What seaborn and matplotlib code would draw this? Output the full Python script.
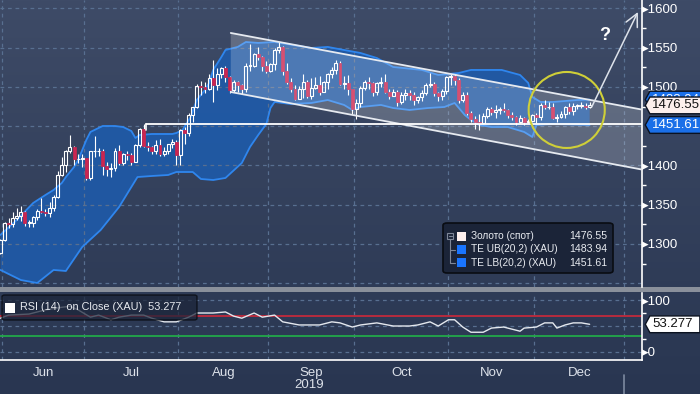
import numpy as np
import matplotlib
matplotlib.use("Agg")
import matplotlib.pyplot as plt
import matplotlib.transforms as mtransforms
from matplotlib.patches import Ellipse, Polygon, FancyBboxPatch, Rectangle
from matplotlib.lines import Line2D
from matplotlib.path import Path
from matplotlib.colors import LinearSegmentedColormap
from matplotlib.ticker import FixedLocator
import seaborn as sns

# ---------------- data (trading-day index: 0 = 31 May 2019 ... 144 = 19 Dec 2019) -------------
opens = [1288, 1305, 1327, 1325, 1333, 1336, 1341, 1327, 1327, 1334, 1342, 1341, 1340, 1346, 1360,
         1388, 1400, 1418, 1423, 1408, 1408, 1409, 1384, 1418, 1418, 1419, 1399, 1396, 1397, 1419,
         1403, 1415, 1413, 1405, 1426, 1446, 1425, 1424, 1418, 1426, 1414, 1418, 1427, 1430, 1413,
         1445, 1441, 1464, 1474, 1501, 1500, 1497, 1511, 1502, 1517, 1524, 1513, 1496, 1506, 1502,
         1498, 1527, 1527, 1542, 1538, 1527, 1520, 1529, 1547, 1551, 1520, 1506, 1498, 1485, 1497,
         1506, 1488, 1499, 1502, 1494, 1506, 1516, 1522, 1531, 1504, 1505, 1497, 1472, 1479, 1499,
         1506, 1505, 1494, 1505, 1506, 1494, 1489, 1494, 1481, 1490, 1492, 1490, 1484, 1487, 1492,
         1503, 1504, 1492, 1488, 1495, 1513, 1514, 1509, 1483, 1490, 1467, 1459, 1456, 1454, 1463,
         1472, 1468, 1471, 1472, 1471, 1464, 1462, 1455, 1461, 1455, 1457, 1464, 1462, 1477, 1474,
         1475, 1460, 1462, 1465, 1475, 1469, 1476, 1476, 1476, 1475]
highs = [1306, 1328, 1333, 1341, 1346, 1348, 1342, 1331, 1336, 1345, 1358, 1344, 1353, 1363, 1393,
         1411, 1420, 1439, 1425, 1415, 1414, 1410, 1419, 1437, 1422, 1421, 1404, 1403, 1422, 1426,
         1416, 1418, 1416, 1428, 1448, 1453, 1430, 1425, 1433, 1434, 1423, 1428, 1434, 1433, 1446,
         1449, 1467, 1475, 1504, 1507, 1506, 1516, 1535, 1524, 1526, 1527, 1514, 1509, 1508, 1504,
         1530, 1555, 1543, 1551, 1540, 1533, 1531, 1550, 1557, 1552, 1530, 1511, 1502, 1501, 1517,
         1509, 1512, 1513, 1514, 1508, 1518, 1525, 1535, 1533, 1514, 1515, 1498, 1485, 1501, 1509,
         1513, 1506, 1506, 1513, 1517, 1497, 1497, 1496, 1494, 1498, 1496, 1493, 1488, 1496, 1505,
         1518, 1506, 1494, 1497, 1514, 1517, 1516, 1512, 1494, 1494, 1470, 1463, 1465, 1467, 1474,
         1474, 1477, 1475, 1479, 1472, 1468, 1463, 1464, 1462, 1459, 1466, 1467, 1479, 1483, 1481,
         1479, 1465, 1469, 1476, 1479, 1480, 1478, 1481, 1479, 1481]
lows = [1287, 1304, 1320, 1322, 1331, 1329, 1323, 1321, 1322, 1331, 1340, 1336, 1335, 1342, 1359,
        1386, 1392, 1416, 1401, 1403, 1398, 1382, 1382, 1411, 1412, 1388, 1387, 1385, 1393, 1400,
        1400, 1407, 1400, 1404, 1423, 1424, 1419, 1414, 1414, 1412, 1412, 1415, 1422, 1400, 1400,
        1428, 1437, 1455, 1473, 1490, 1492, 1496, 1481, 1496, 1511, 1506, 1492, 1494, 1494, 1491,
        1493, 1520, 1526, 1535, 1520, 1518, 1519, 1522, 1543, 1515, 1504, 1494, 1483, 1485, 1486,
        1486, 1485, 1497, 1490, 1493, 1498, 1511, 1516, 1502, 1497, 1490, 1465, 1459, 1474, 1496,
        1498, 1489, 1490, 1500, 1492, 1485, 1488, 1476, 1478, 1483, 1484, 1477, 1480, 1482, 1490,
        1500, 1488, 1482, 1484, 1491, 1502, 1502, 1480, 1481, 1464, 1456, 1447, 1445, 1453, 1460,
        1464, 1460, 1466, 1468, 1461, 1458, 1452, 1454, 1451, 1454, 1455, 1454, 1458, 1472, 1472,
        1459, 1456, 1460, 1461, 1465, 1464, 1472, 1473, 1472, 1473]
closes = [1305, 1327, 1325, 1333, 1336, 1341, 1327, 1327, 1334, 1342, 1341, 1340, 1346, 1360, 1388,
          1400, 1418, 1423, 1408, 1408, 1409, 1384, 1418, 1418, 1419, 1399, 1396, 1397, 1419, 1403,
          1415, 1413, 1405, 1426, 1446, 1425, 1424, 1418, 1426, 1414, 1418, 1427, 1430, 1413, 1445,
          1441, 1464, 1474, 1501, 1500, 1497, 1511, 1502, 1517, 1524, 1513, 1496, 1506, 1502, 1498,
          1527, 1527, 1542, 1538, 1527, 1520, 1529, 1547, 1551, 1520, 1506, 1498, 1485, 1497, 1506,
          1488, 1499, 1502, 1494, 1506, 1516, 1522, 1531, 1504, 1505, 1497, 1472, 1479, 1499, 1506,
          1505, 1494, 1505, 1506, 1494, 1489, 1494, 1481, 1490, 1492, 1490, 1484, 1487, 1492, 1503,
          1504, 1492, 1488, 1495, 1513, 1514, 1509, 1483, 1490, 1467, 1459, 1456, 1454, 1463, 1472,
          1468, 1471, 1472, 1471, 1464, 1462, 1455, 1461, 1455, 1457, 1464, 1462, 1477, 1474, 1475,
          1460, 1462, 1465, 1475, 1469, 1476, 1476, 1476, 1474.5, 1476.55]

ub_idx = [0, 4, 8, 11, 13, 15, 16, 18, 19, 20, 21, 22, 24, 25, 28, 30, 32, 33, 34, 37,
          39, 42, 43, 44.5, 46.5, 48, 50, 51, 52, 54, 55, 58, 60, 63, 67, 71.5, 76, 80, 84, 88,
          92, 96, 103, 107, 112, 115, 122.5, 127, 129, 130, 132, 135, 141, 144]
ub_val = [1311.5, 1330.6, 1352.2, 1362.4, 1368.8, 1377.7, 1385.3, 1398.1, 1407.0, 1419.7,
          1432.5, 1442.7, 1447.8, 1450.3, 1450.3, 1449.0, 1443.9, 1435.0, 1438.8, 1440.1,
          1440.1, 1440.1, 1441.4, 1445.2, 1461.8, 1483.4, 1496.2, 1505.1, 1521.7, 1538.2,
          1547.1, 1551.0, 1557.3, 1556.1, 1557.3, 1553.5, 1549.7, 1551.0, 1547.1, 1543.3,
          1536.9, 1525.5, 1521.7, 1515.3, 1517.8, 1521.7, 1521.7, 1515.3, 1505.1, 1487.3,
          1480.9, 1480.9, 1483.4, 1483.94]
lb_idx = [0, 5, 9, 13, 16, 20, 24.5, 29, 33.5, 37, 41, 43, 47, 49, 52, 55, 59, 61, 63, 65,
          66, 67, 71, 76, 80, 84, 86, 88, 93, 96, 100, 104.5, 108.5, 111, 113.5, 115, 117, 120,
          124, 128, 130, 131, 135, 144]
lb_val = [1266.9, 1254.1, 1250.3, 1266.9, 1265.6, 1296.2, 1317.8, 1347.1, 1385.3, 1386.6,
          1387.9, 1391.7, 1391.7, 1382.8, 1381.5, 1384.1, 1403.2, 1423.6, 1438.8, 1452.9,
          1473.2, 1480.9, 1478.3, 1479.6, 1483.4, 1477.1, 1470.7, 1474.5, 1477.1, 1473.2,
          1470.7, 1473.2, 1474.5, 1479.6, 1464.3, 1458.0, 1451.6, 1449.0, 1449.0, 1442.7,
          1436.3, 1451.6, 1452.9, 1451.61]

rsi_idx = [0, 2, 7, 11, 15, 17, 19, 22, 24, 27, 29, 32, 35, 37, 40, 43, 46, 48, 52, 55,
           57, 59, 62, 64, 67, 69, 73, 75, 78, 81, 83, 86, 88, 92, 96, 100, 102, 105, 107, 109.5,
           111, 113, 115, 118, 120, 123, 127, 128, 131, 133, 135, 136, 138, 140, 142, 144]
rsi_val = [65, 71, 73, 81, 86, 88, 81, 67, 71, 62, 67, 71, 71, 65, 58, 58, 67, 75, 75, 77,
           69, 65, 75, 67, 71, 58, 52, 52, 52, 58, 56, 48, 52, 56, 50, 50, 52, 58, 50, 62,
           62, 48, 38, 38, 46, 48, 40, 46, 48, 56, 56, 46, 52, 56, 56, 53.277]

month_names = ["Jun", "Jul", "Aug", "Sep", "Oct", "Nov", "Dec"]
month_bounds = [0.5, 20.5, 43.5, 65.5, 86.5, 109.5, 130.5, 152.5]
year_label = "2019"
price_ticks = [1300, 1350, 1400, 1500, 1550, 1600]   # 1450 sits under the LB tag
price_grid = [1250, 1300, 1350, 1400, 1450, 1500, 1550, 1600]
rsi_ticks = [0, 50, 100]

channel_x = [56.3, 157.3]
channel_upper = [1568.8, 1470.7]
channel_lower = [1493.6, 1394.3]
support_start, support_level, support_tick_end = 35.5, 1452.6, 1445.0
circle_center, circle_w, circle_h = (138.4, 1470.7), 18.6, 96.8
arrow_from, arrow_to = (144.5, 1474.5), (155.8, 1595.5)
question_pos = (147.7, 1566.0)

legend_labels = ["Золото (спот)", "TE UB(20,2) (XAU)", "TE LB(20,2) (XAU)"]
last_gold, last_ub, last_lb = 1476.55, 1483.94, 1451.61
last_rsi = 53.277
rsi_upper, rsi_lower = 70, 30

# ---------------- style ----------------
BG_TOP, BG_BOT = "#3e4b67", "#293651"
GRID = "#586f90"
BAND_FILL, BAND_EDGE = "#1f5aa8", "#2f86ee"
DOWN = "#cc2550"
TXT = "#e8ebf0"
TAG_BLUE = "#1a6fe8"

sns.set_style("dark")
plt.rcParams["font.family"] = ["Liberation Sans", "DejaVu Sans"]
plt.rcParams["axes.unicode_minus"] = False

W, H = 700, 394
def fx(p):
    return p / W
def fy(p):
    return 1 - p / H

fig = plt.figure(figsize=(7, 3.94), dpi=100)

bg = fig.add_axes([0, 0, 1, 1], zorder=0)
bg.imshow(np.linspace(0, 1, 256)[:, None], aspect="auto",
          cmap=LinearSegmentedColormap.from_list("bg", [BG_TOP, BG_BOT]), extent=[0, 1, 0, 1])
bg.set_axis_off()

fig.add_artist(Rectangle((0, fy(292)), 1, 5 / H, transform=fig.transFigure,
                         facecolor="#8a909b", edgecolor="none", zorder=0.5))

XLIM = (-0.1, 156.8)

# ---------------- main price panel ----------------
ax = fig.add_axes([0, fy(287), fx(642), 287 / H], zorder=1)
ax.set_facecolor("none")
ax.set_xlim(*XLIM)
ax.set_ylim(1245.2, 1610.8)

# Bollinger band
ax.fill(np.r_[ub_idx, lb_idx[::-1]], np.r_[ub_val, lb_val[::-1]],
        facecolor=BAND_FILL, edgecolor="none", alpha=0.92, zorder=1)
sns.lineplot(x=ub_idx, y=ub_val, ax=ax, color=BAND_EDGE, lw=1.3, estimator=None, zorder=2)
sns.lineplot(x=lb_idx, y=lb_val, ax=ax, color=BAND_EDGE, lw=1.3, estimator=None, zorder=2)

# candles
o, h, l, c = map(np.array, (opens, highs, lows, closes))
x = np.arange(len(c))
up = c >= o
blo, bhi = np.minimum(o, c), np.maximum(o, c)
bh = np.maximum(bhi - blo, 0.8)
ax.vlines(x, bhi, h, color="white", lw=0.8, zorder=3)
ax.vlines(x, l, blo, color="white", lw=0.8, zorder=3)
ax.bar(x[up], bh[up], bottom=blo[up], width=0.72, facecolor="none",
       edgecolor="white", lw=0.8, zorder=3.1)
ax.bar(x[~up], bh[~up], bottom=blo[~up], width=0.72, facecolor=DOWN,
       edgecolor=DOWN, lw=0.5, zorder=3.1)

# channel
ax.add_patch(Polygon([[channel_x[0], channel_upper[0]], [channel_x[1], channel_upper[1]],
                      [channel_x[1], channel_lower[1]], [channel_x[0], channel_lower[0]]],
                     closed=True, facecolor="white", alpha=0.2, edgecolor="none", zorder=3.5))
ax.plot(channel_x, channel_upper, color="#e6eaf0", lw=1.3, zorder=4)
ax.plot(channel_x, channel_lower, color="#e6eaf0", lw=1.3, zorder=4)

# support line
ax.plot([support_start, XLIM[1]], [support_level, support_level], color="white", lw=1.3, zorder=4)
ax.plot([support_start, support_start], [support_level, support_tick_end], color="white", lw=1.2, zorder=4)

# circle, arrow, question mark
ax.add_patch(Ellipse(circle_center, circle_w, circle_h, fill=False, edgecolor="#cfcf38", lw=1.5, zorder=5))
ax.annotate("", xy=arrow_to, xytext=arrow_from, zorder=5, annotation_clip=False,
            arrowprops=dict(arrowstyle="->,head_length=0.9,head_width=0.45", color="#dde2ea", lw=1.1,
                            shrinkA=0, shrinkB=0))
ax.text(*question_pos, "?", color="white", fontsize=13, fontweight="bold",
        ha="center", va="center", zorder=6)

# axes / grid
ax.set_xticks(month_bounds)
ax.set_xticklabels([])
ax.tick_params(axis="x", length=0)
ax.set_yticks(price_grid)
ax.yaxis.tick_right()
ax.set_yticklabels(["\u25B8" + str(v) if v in price_ticks else "" for v in price_grid])
ax.yaxis.set_minor_locator(FixedLocator([v + 25 for v in price_grid]))
ax.tick_params(axis="y", which="major", length=0, pad=0, labelcolor="white", labelsize=9.5)
ax.tick_params(axis="y", which="minor", length=3, width=1, color="white", direction="out")
ax.grid(True, which="major", color=GRID, ls=(0, (3, 3)), lw=0.9)
ax.set_axisbelow("line")
for s in ["left", "top", "bottom"]:
    ax.spines[s].set_visible(False)
ax.spines["right"].set_color("white")
ax.spines["right"].set_linewidth(1.2)
ax.set_xlabel("")
ax.set_ylabel("")


# value tags on the right: box with a pointed left side
def tag_box(x0, y0, width, height, mutation_size):
    pad = 0.18 * mutation_size
    xa, ya = x0 - pad, y0 - pad
    xb, yb = x0 + width + pad * 3, y0 + height + pad
    d = (yb - ya) / 2
    return Path([(xa, ya), (xb, ya), (xb, yb), (xa, yb), (xa - d * 0.55, (ya + yb) / 2), (xa, ya)],
                closed=True)


def value_tag(axis, y, text, fc, tc, z, fs=9.5):
    tr = mtransforms.blended_transform_factory(axis.transAxes, axis.transData)
    axis.text(1.016, y, text, transform=tr, ha="left", va="center", fontsize=fs, color=tc,
              zorder=z, clip_on=False,
              bbox=dict(boxstyle=tag_box, fc=fc, ec="#0b1220", lw=1))


value_tag(ax, last_ub, f"{last_ub:.2f}", TAG_BLUE, "white", 10)
value_tag(ax, last_gold, f"{last_gold:.2f}", "#fcefec", "#111111", 11)
value_tag(ax, last_lb, f"{last_lb:.2f}", TAG_BLUE, "white", 12)

# ---------------- RSI panel ----------------
ax2 = fig.add_axes([0, fy(360), fx(642), 67 / H], zorder=1)
ax2.set_facecolor("none")
ax2.set_xlim(*XLIM)
ax2.set_ylim(-15.4, 113.5)
ax2.axhline(rsi_upper, color="#c22a3c", lw=1.3, zorder=2)
ax2.axhline(rsi_lower, color="#22a84a", lw=1.3, zorder=2)
sns.lineplot(x=rsi_idx, y=rsi_val, ax=ax2, color="#e4e8ee", lw=1.0, estimator=None, zorder=3)

ax2.set_yticks(rsi_ticks)
ax2.yaxis.tick_right()
ax2.set_yticklabels(["\u25B8" + str(v) if v != 50 else "" for v in rsi_ticks])
ax2.yaxis.set_minor_locator(FixedLocator([25, 75]))
ax2.tick_params(axis="y", which="major", length=0, pad=0, labelcolor="white", labelsize=9.5)
ax2.tick_params(axis="y", which="minor", length=3, width=1, color="white", direction="out")
ax2.set_xticks(month_bounds)
ax2.set_xticklabels([])
centers = [(a + b) / 2 for a, b in zip(month_bounds[:-1], month_bounds[1:])]
ax2.set_xticks(centers, minor=True)
ax2.set_xticklabels(month_names, minor=True)
ax2.tick_params(axis="x", which="major", length=4, width=1, color="white", direction="out")
ax2.tick_params(axis="x", which="minor", length=0, pad=5, labelcolor="#dde2ea", labelsize=9.5)
ax2.grid(True, which="major", color=GRID, ls=(0, (3, 3)), lw=0.9)
ax2.set_axisbelow(True)
for s in ["left", "top"]:
    ax2.spines[s].set_visible(False)
for s in ["right", "bottom"]:
    ax2.spines[s].set_color("white")
    ax2.spines[s].set_linewidth(1.2)
ax2.set_xlabel("")
ax2.set_ylabel("")

trx = mtransforms.blended_transform_factory(ax2.transData, ax2.transAxes)
ax2.text(centers[3] - 0.5, -0.37, year_label, transform=trx, ha="center", va="center",
         fontsize=9.5, color="#dde2ea", clip_on=False)
ax2.add_line(Line2D([month_bounds[-1]] * 2, [-0.22, -0.52], transform=trx, color="#7d8aa0",
                    lw=1.2, clip_on=False))
value_tag(ax2, last_rsi, f"{last_rsi:.3f}", "white", "#111111", 10)

# ---------------- legends ----------------
fig.add_artist(FancyBboxPatch((fx(443), fy(273)), fx(613) - fx(443), (273 - 223) / H,
                              boxstyle="round,pad=0,rounding_size=0.006", transform=fig.transFigure,
                              facecolor="#1b2438", edgecolor="#090c12", lw=1.2, zorder=10))
rows = [236, 249.5, 262.5]
sw_colors = ["#fdf0ee", "#1a75ff", "#1a75ff"]
vals = [last_gold, last_ub, last_lb]
for ry, lab, col, v in zip(rows, legend_labels, sw_colors, vals):
    fig.add_artist(Rectangle((fx(457), fy(ry + 4.5)), 9 / W, 9 / H, transform=fig.transFigure,
                             facecolor=col, edgecolor="none", zorder=11))
    fig.text(fx(471), fy(ry), lab, fontsize=7.3, color=TXT, ha="left", va="center", zorder=11)
    fig.text(fx(607), fy(ry), f"{v:.2f}", fontsize=7.6, color=TXT, ha="right", va="center", zorder=11)
fig.add_artist(Rectangle((fx(447), fy(239)), 6 / W, 6 / H, transform=fig.transFigure,
                         facecolor="none", edgecolor="#7f8899", lw=0.8, zorder=11))
fig.add_artist(Line2D([fx(448.5), fx(451.5)], [fy(236), fy(236)], transform=fig.transFigure,
                      color="#7f8899", lw=0.8, zorder=11))
fig.add_artist(Line2D([fx(450), fx(450)], [fy(239), fy(262.5)], transform=fig.transFigure,
                      color="#7f8899", lw=0.8, zorder=11))
for ry in rows[1:]:
    fig.add_artist(Line2D([fx(450), fx(455)], [fy(ry), fy(ry)], transform=fig.transFigure,
                          color="#7f8899", lw=0.8, zorder=11))

fig.add_artist(FancyBboxPatch((fx(2), fy(320)), fx(197) - fx(2), 25 / H,
                              boxstyle="round,pad=0,rounding_size=0.004", transform=fig.transFigure,
                              facecolor="#1b2438", alpha=0.72, edgecolor="#05070b", lw=1.0, zorder=10))
fig.add_artist(Rectangle((fx(5), fy(313)), 10 / W, 10 / H, transform=fig.transFigure,
                         facecolor="white", edgecolor="none", zorder=11))
fig.text(fx(20), fy(307.5), f"RSI (14)  on Close (XAU)  {last_rsi:.3f}", fontsize=7.8,
         color=TXT, ha="left", va="center", zorder=11)

fig.savefig("out.png", dpi=100, facecolor=BG_BOT)
